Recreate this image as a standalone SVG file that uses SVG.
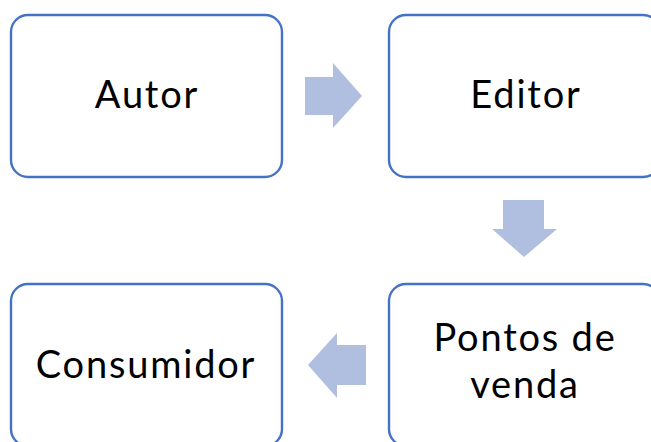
<svg xmlns="http://www.w3.org/2000/svg" width="651" height="442" viewBox="0 0 651 442">
<style>
.box{fill:#fff;stroke:#4472C4;stroke-width:2.4}
.lbl{font-family:Lato,"Open Sans",sans-serif;font-size:38px;letter-spacing:1.8px;fill:#000;text-anchor:middle}
.arr{fill:#B0BEE0}
</style>
<rect width="651" height="442" fill="#fff"/>
<g id="autor"><rect class="box" x="11" y="15" width="271" height="162" rx="17"/><text class="lbl" x="147" y="108">Autor</text></g>
<g id="editor"><rect class="box" x="389" y="15" width="271" height="162" rx="17"/><text class="lbl" x="526" y="108">Editor</text></g>
<g id="pontos"><rect class="box" x="389" y="284" width="271" height="162" rx="17"/><text class="lbl"><tspan x="525" y="351">Pontos de</tspan><tspan x="525" y="398">venda</tspan></text></g>
<g id="consumidor"><rect class="box" x="11" y="284" width="271" height="162" rx="17"/><text class="lbl" x="146" y="378">Consumidor</text></g>
<g id="connectors">
<polygon class="arr" points="305,77 333,77 333,63 362,96 333,128 333,115 305,115"/>
<polygon class="arr" points="503,200 544,200 544,229 557,229 524,257 492,229 503,229"/>
<polygon class="arr" points="366,345 337,345 337,333 308,365 337,398 337,385 366,385"/>
</g>
</svg>
